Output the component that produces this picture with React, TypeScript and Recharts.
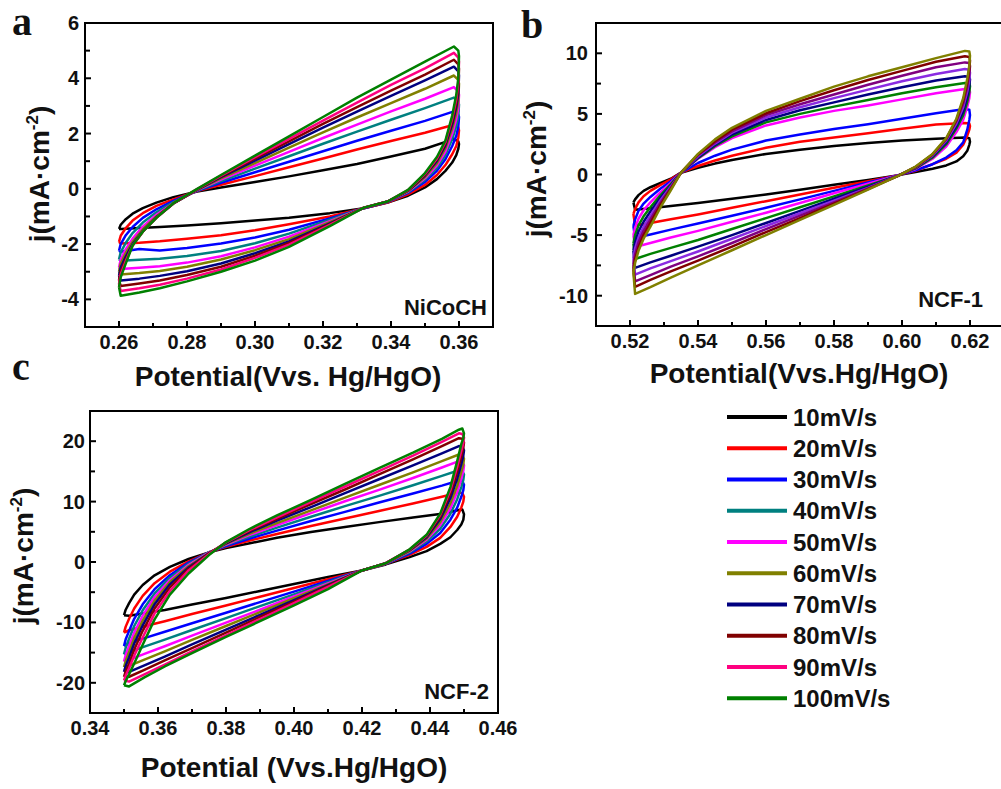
// Cyclic voltammetry panels (a, b, c) drawn with Recharts line loops
import React from "react";
import { LineChart, Line, XAxis, YAxis, ReferenceArea } from "recharts";

const rates = ["10mV/s", "20mV/s", "30mV/s", "40mV/s", "50mV/s", "60mV/s", "70mV/s", "80mV/s", "90mV/s", "100mV/s"];
const colorsAC = ["#000000", "#ff0000", "#0000ff", "#008080", "#ff00ff", "#808000", "#000080", "#800000", "#ff0080", "#008000"];
const colorsB = ["#000000", "#ff0000", "#0000ff", "#ff00ff", "#008000", "#000080", "#8a2be2", "#800080", "#800000", "#808000"];

// ---- panel a : NiCoCH ----
const aUpX = [0.26, 0.2605, 0.262, 0.264, 0.267, 0.271, 0.276, 0.283, 0.29, 0.3, 0.31, 0.32, 0.33, 0.34, 0.35, 0.3585, 0.3598];
const aUpper = [
  [-1.45, -1.3, -1.1, -0.9, -0.7, -0.5, -0.3, -0.1, 0.05, 0.25, 0.45, 0.67, 0.9, 1.17, 1.45, 1.8, 1.72],
  [-1.92, -1.7, -1.42, -1.15, -0.88, -0.62, -0.38, -0.08, 0.15, 0.46, 0.78, 1.1, 1.42, 1.73, 2.03, 2.32, 2.22],
  [-2.24, -2.0, -1.68, -1.38, -1.05, -0.74, -0.44, -0.07, 0.22, 0.6, 0.98, 1.36, 1.74, 2.1, 2.46, 2.8, 2.68],
  [-2.56, -2.3, -1.95, -1.6, -1.22, -0.85, -0.48, -0.06, 0.28, 0.73, 1.18, 1.63, 2.07, 2.5, 2.92, 3.3, 3.16],
  [-2.85, -2.56, -2.18, -1.8, -1.37, -0.94, -0.52, -0.05, 0.33, 0.84, 1.34, 1.84, 2.32, 2.8, 3.26, 3.68, 3.52],
  [-3.0, -2.7, -2.32, -1.92, -1.47, -1.0, -0.53, -0.04, 0.38, 0.93, 1.49, 2.04, 2.58, 3.1, 3.62, 4.1, 3.94],
  [-3.15, -2.85, -2.45, -2.0, -1.53, -1.03, -0.53, -0.03, 0.42, 1.02, 1.62, 2.21, 2.79, 3.36, 3.92, 4.42, 4.25],
  [-3.3, -2.98, -2.55, -2.05, -1.55, -1.04, -0.53, -0.02, 0.45, 1.09, 1.72, 2.35, 2.96, 3.55, 4.13, 4.67, 4.5],
  [-3.45, -3.1, -2.62, -2.05, -1.55, -1.05, -0.52, -0.01, 0.48, 1.15, 1.81, 2.47, 3.12, 3.76, 4.36, 4.92, 4.75],
  [-3.55, -3.2, -2.7, -2.05, -1.55, -1.05, -0.52, 0.0, 0.5, 1.2, 1.9, 2.6, 3.3, 3.95, 4.6, 5.15, 5.0],
];
const aDownX = [0.36, 0.3598, 0.3592, 0.358, 0.356, 0.3535, 0.35, 0.345, 0.339, 0.332, 0.322, 0.31, 0.3, 0.29, 0.28, 0.272, 0.266, 0.2605];
const aLower = [
  [1.62, 1.45, 1.22, 0.95, 0.65, 0.35, 0.05, -0.25, -0.5, -0.7, -0.88, -1.05, -1.15, -1.25, -1.33, -1.38, -1.42, -1.45],
  [2.12, 1.85, 1.55, 1.25, 0.86, 0.5, 0.14, -0.2, -0.5, -0.7, -1.0, -1.28, -1.5, -1.68, -1.81, -1.9, -1.95, -1.98],
  [2.6, 2.25, 1.92, 1.55, 1.07, 0.65, 0.25, -0.15, -0.48, -0.7, -1.07, -1.48, -1.76, -1.98, -2.14, -2.23, -2.18, -2.28],
  [3.05, 2.62, 2.27, 1.8, 1.22, 0.76, 0.33, -0.12, -0.47, -0.69, -1.12, -1.62, -1.97, -2.25, -2.43, -2.53, -2.57, -2.6],
  [3.4, 2.92, 2.52, 2.0, 1.35, 0.85, 0.38, -0.1, -0.46, -0.69, -1.17, -1.73, -2.12, -2.44, -2.67, -2.8, -2.86, -2.9],
  [3.8, 3.2, 2.75, 2.18, 1.47, 0.93, 0.43, -0.08, -0.46, -0.69, -1.21, -1.82, -2.22, -2.56, -2.82, -2.97, -3.05, -3.1],
  [4.1, 3.45, 2.95, 2.33, 1.57, 1.01, 0.48, -0.07, -0.46, -0.69, -1.25, -1.9, -2.33, -2.7, -2.98, -3.15, -3.25, -3.32],
  [4.35, 3.65, 3.1, 2.45, 1.64, 1.06, 0.51, -0.06, -0.46, -0.68, -1.28, -1.96, -2.42, -2.82, -3.12, -3.32, -3.43, -3.52],
  [4.6, 3.85, 3.25, 2.55, 1.7, 1.1, 0.54, -0.05, -0.46, -0.68, -1.3, -2.02, -2.5, -2.92, -3.25, -3.47, -3.6, -3.7],
  [4.8, 4.0, 3.4, 2.65, 1.75, 1.15, 0.57, -0.04, -0.46, -0.68, -1.35, -2.1, -2.6, -3.0, -3.35, -3.6, -3.75, -3.87],
];
const aXLabels = [0.26, 0.28, 0.3, 0.32, 0.34, 0.36];
const aXMinor = [0.27, 0.29, 0.31, 0.33, 0.35];
const aYLabels = [-4, -2, 0, 2, 4, 6];
const aYMinor = [-3, -1, 1, 3, 5];

// ---- panel b : NCF-1 ----
const bUpX = [0.521, 0.5215, 0.5225, 0.524, 0.526, 0.529, 0.532, 0.535, 0.54, 0.545, 0.55, 0.56, 0.57, 0.58, 0.59, 0.6, 0.61, 0.6185, 0.6198];
const bUpper = [
  [-2.3, -2.05, -1.7, -1.35, -1.05, -0.7, -0.35, 0.15, 0.55, 0.9, 1.2, 1.7, 2.05, 2.35, 2.6, 2.8, 2.95, 3.05, 3.0],
  [-3.25, -2.85, -2.3, -1.8, -1.35, -0.85, -0.4, 0.15, 0.7, 1.15, 1.55, 2.2, 2.7, 3.05, 3.4, 3.77, 4.12, 4.25, 4.2],
  [-4.25, -3.7, -3.0, -2.4, -1.85, -1.15, -0.55, 0.15, 0.95, 1.55, 2.05, 2.8, 3.3, 3.75, 4.15, 4.6, 5.05, 5.4, 5.35],
  [-5.0, -4.4, -3.65, -2.95, -2.3, -1.45, -0.7, 0.15, 1.3, 2.25, 3.0, 4.05, 4.7, 5.25, 5.7, 6.2, 6.7, 7.05, 7.0],
  [-5.7, -5.0, -4.2, -3.45, -2.7, -1.7, -0.8, 0.15, 1.35, 2.35, 3.15, 4.3, 5.0, 5.6, 6.15, 6.7, 7.2, 7.55, 7.5],
  [-6.3, -5.6, -4.7, -3.9, -3.05, -1.9, -0.9, 0.15, 1.4, 2.45, 3.3, 4.5, 5.3, 5.95, 6.6, 7.2, 7.75, 8.1, 8.05],
  [-6.9, -6.1, -5.2, -4.3, -3.4, -2.1, -1.0, 0.15, 1.5, 2.55, 3.45, 4.7, 5.55, 6.3, 7.0, 7.7, 8.3, 8.7, 8.65],
  [-7.4, -6.6, -5.6, -4.65, -3.7, -2.3, -1.1, 0.15, 1.6, 2.65, 3.55, 4.9, 5.8, 6.6, 7.4, 8.15, 8.85, 9.25, 9.2],
  [-7.8, -7.0, -6.0, -5.0, -4.0, -2.5, -1.2, 0.15, 1.65, 2.75, 3.7, 5.05, 6.05, 6.95, 7.8, 8.55, 9.3, 9.75, 9.7],
  [-8.1, -7.3, -6.3, -5.3, -4.3, -2.7, -1.3, 0.15, 1.7, 2.9, 3.85, 5.25, 6.25, 7.25, 8.1, 8.85, 9.6, 10.2, 10.15],
];
const bDownX = [0.62, 0.6198, 0.6192, 0.618, 0.616, 0.613, 0.609, 0.604, 0.599, 0.59, 0.58, 0.57, 0.56, 0.55, 0.54, 0.532, 0.526, 0.5215];
const bLower = [
  [2.7, 2.45, 1.95, 1.5, 1.08, 0.75, 0.48, 0.2, -0.05, -0.45, -0.85, -1.25, -1.65, -2.0, -2.35, -2.6, -2.78, -2.9],
  [4.0, 3.7, 3.2, 2.45, 1.8, 1.3, 0.85, 0.3, -0.05, -0.55, -1.1, -1.65, -2.2, -2.75, -3.3, -3.7, -4.0, -4.21],
  [4.9, 4.5, 3.7, 2.65, 2.0, 1.4, 0.85, 0.35, -0.05, -0.65, -1.35, -2.05, -2.75, -3.4, -4.05, -4.55, -4.95, -5.23],
  [6.8, 6.3, 5.6, 4.5, 3.5, 2.3, 1.3, 0.45, -0.05, -0.75, -1.55, -2.35, -3.15, -3.9, -4.65, -5.2, -5.65, -5.98],
  [7.3, 6.8, 6.0, 4.9, 3.8, 2.5, 1.4, 0.5, -0.07, -0.9, -1.8, -2.7, -3.6, -4.5, -5.4, -6.05, -6.55, -6.97],
  [7.85, 7.3, 6.4, 5.2, 4.0, 2.65, 1.5, 0.55, -0.08, -1.0, -2.0, -3.0, -4.0, -5.0, -5.95, -6.7, -7.25, -7.71],
  [8.4, 7.8, 6.85, 5.55, 4.2, 2.8, 1.57, 0.58, -0.08, -1.1, -2.15, -3.2, -4.25, -5.3, -6.35, -7.15, -7.75, -8.26],
  [8.95, 8.3, 7.25, 5.85, 4.4, 2.9, 1.63, 0.6, -0.09, -1.15, -2.3, -3.4, -4.5, -5.65, -6.75, -7.6, -8.3, -8.82],
  [9.4, 8.7, 7.6, 6.1, 4.5, 2.95, 1.67, 0.62, -0.09, -1.2, -2.4, -3.6, -4.75, -5.95, -7.1, -8.0, -8.7, -9.28],
  [9.8, 9.0, 7.9, 6.3, 4.6, 3.0, 1.7, 0.65, -0.1, -1.25, -2.5, -3.75, -5.0, -6.25, -7.5, -8.5, -9.3, -9.85],
];
const bXLabels = [0.52, 0.54, 0.56, 0.58, 0.6, 0.62];
const bXMinor = [0.53, 0.55, 0.57, 0.59, 0.61];
const bYLabels = [-10, -5, 0, 5, 10];
const bYMinor = [-7.5, -2.5, 2.5, 7.5];

// ---- panel c : NCF-2 ----
const cUpX = [0.35, 0.3505, 0.3515, 0.353, 0.3555, 0.359, 0.3635, 0.369, 0.375, 0.38, 0.387, 0.395, 0.405, 0.415, 0.425, 0.435, 0.4435, 0.4485, 0.4495];
const cUpper = [
  [-8.8, -7.9, -6.8, -5.4, -3.8, -2.2, -0.8, 0.5, 1.6, 2.3, 3.1, 4.0, 4.95, 5.8, 6.6, 7.35, 8.0, 8.6, 8.7],
  [-11.7, -10.7, -9.4, -7.7, -5.6, -3.5, -1.6, 0.1, 1.6, 2.5, 3.55, 4.65, 5.95, 7.2, 8.45, 9.7, 10.8, 11.5, 11.4],
  [-13.9, -12.8, -11.4, -9.4, -7.0, -4.5, -2.2, -0.1, 1.6, 2.65, 3.9, 5.2, 6.8, 8.3, 9.85, 11.35, 12.65, 13.5, 13.4],
  [-15.3, -14.2, -12.7, -10.6, -8.0, -5.2, -2.6, -0.3, 1.6, 2.8, 4.2, 5.7, 7.5, 9.25, 10.95, 12.7, 14.25, 15.2, 15.1],
  [-16.5, -15.4, -13.9, -11.7, -8.9, -5.8, -3.0, -0.5, 1.55, 2.9, 4.5, 6.1, 8.1, 10.05, 11.95, 13.9, 15.65, 16.7, 16.6],
  [-17.4, -16.4, -14.9, -12.6, -9.7, -6.4, -3.3, -0.7, 1.5, 3.0, 4.7, 6.45, 8.55, 10.65, 12.75, 14.85, 16.7, 17.8, 17.7],
  [-18.2, -17.2, -15.8, -13.5, -10.5, -7.0, -3.7, -0.9, 1.45, 3.1, 4.95, 6.85, 9.1, 11.4, 13.7, 16.0, 18.0, 19.2, 19.1],
  [-19.0, -18.1, -16.8, -14.5, -11.4, -7.7, -4.2, -1.1, 1.4, 3.2, 5.15, 7.15, 9.6, 12.0, 14.5, 17.0, 19.2, 20.5, 20.4],
  [-19.6, -18.8, -17.6, -15.5, -12.5, -8.5, -4.8, -1.4, 1.3, 3.25, 5.3, 7.4, 9.95, 12.5, 15.05, 17.6, 19.9, 21.3, 21.2],
  [-20.4, -19.7, -18.6, -16.8, -13.7, -9.5, -5.4, -1.9, 1.15, 3.3, 5.5, 7.7, 10.3, 12.95, 15.55, 18.1, 20.4, 21.9, 22.1],
];
const cDownX = [0.45, 0.4498, 0.4492, 0.448, 0.446, 0.443, 0.439, 0.434, 0.427, 0.42, 0.41, 0.4, 0.39, 0.38, 0.37, 0.362, 0.356, 0.3515];
const cLower = [
  [7.9, 7.0, 6.2, 5.3, 4.1, 3.0, 1.8, 0.8, -0.4, -1.4, -2.5, -3.65, -4.8, -5.95, -7.05, -7.95, -8.5, -8.9],
  [10.8, 10.0, 9.0, 7.5, 5.8, 4.0, 2.5, 1.2, -0.3, -1.4, -2.85, -4.3, -5.75, -7.2, -8.6, -9.8, -10.65, -11.3],
  [12.8, 11.9, 10.8, 9.0, 7.0, 4.8, 3.0, 1.4, -0.3, -1.4, -3.15, -4.9, -6.65, -8.4, -10.15, -11.55, -12.6, -13.4],
  [14.5, 13.6, 12.4, 10.4, 8.0, 5.5, 3.4, 1.6, -0.25, -1.4, -3.35, -5.35, -7.3, -9.3, -11.25, -12.85, -14.0, -14.9],
  [16.0, 15.1, 13.8, 11.6, 8.9, 6.1, 3.7, 1.75, -0.25, -1.4, -3.55, -5.7, -7.9, -10.05, -12.2, -13.95, -15.2, -16.2],
  [17.1, 16.2, 14.9, 12.6, 9.7, 6.6, 3.9, 1.85, -0.25, -1.4, -3.7, -6.0, -8.3, -10.6, -12.9, -14.8, -16.15, -17.2],
  [18.5, 17.6, 16.2, 13.8, 10.6, 7.1, 4.1, 1.95, -0.2, -1.4, -3.85, -6.3, -8.75, -11.2, -13.65, -15.65, -17.1, -18.2],
  [19.8, 18.9, 17.4, 14.9, 11.3, 7.5, 4.3, 2.0, -0.2, -1.4, -3.95, -6.55, -9.1, -11.7, -14.25, -16.3, -17.85, -19.0],
  [20.6, 19.7, 18.4, 15.8, 11.9, 7.8, 4.4, 2.05, -0.2, -1.4, -4.1, -6.8, -9.45, -12.15, -14.8, -17.0, -18.6, -19.8],
  [21.3, 20.5, 19.5, 16.7, 12.4, 8.0, 4.5, 2.1, -0.2, -1.4, -4.5, -7.2, -9.8, -12.4, -15.1, -17.3, -19.1, -20.6],
];
const cXLabels = [0.34, 0.36, 0.38, 0.4, 0.42, 0.44, 0.46];
const cXMinor = [0.35, 0.37, 0.39, 0.41, 0.43, 0.45];
const cYLabels = [-20, -10, 0, 10, 20];
const cYMinor = [-15, -5, 5, 15];

const FONT = "Arial, 'Liberation Sans', sans-serif";

function makeLoop(upX: number[], up: number[], downX: number[], down: number[]) {
  const pts = upX.map((x, i) => ({ x, y: up[i] }));
  downX.forEach((x, i) => pts.push({ x, y: down[i] }));
  pts.push(pts[0]);
  return pts;
}

function Panel(props: any) {
  const { left, top, width, height, margin, yWidth, xDomain, yDomain, xLabels, xMinor, yLabels, yMinor, loops, yGap } = props;
  const xTicks = [...xLabels, ...xMinor].sort((p, q) => p - q);
  const yTicks = [...yLabels, ...yMinor].sort((p, q) => p - q);

  const renderXTick = (p: any) => {
    const v = p.payload.value;
    const major = xLabels.includes(v);
    return (
      <g>
        <line x1={p.x} x2={p.x} y1={p.y} y2={p.y - (major ? 6 : 4)} stroke="#000" strokeWidth={2} />
        {major && (
          <text x={p.x} y={p.y + 22} textAnchor="middle" fontFamily={FONT} fontWeight={700} fontSize={20} fill="#111">
            {v.toFixed(2)}
          </text>
        )}
      </g>
    );
  };

  const renderYTick = (p: any) => {
    const v = p.payload.value;
    const major = yLabels.includes(v);
    return (
      <g>
        <line x1={p.x} x2={p.x + (major ? 6 : 5)} y1={p.y} y2={p.y} stroke="#000" strokeWidth={2} />
        {major && (
          <text x={p.x - yGap} y={p.y + 7} textAnchor="end" fontFamily={FONT} fontWeight={700} fontSize={20} fill="#111">
            {String(v)}
          </text>
        )}
      </g>
    );
  };

  return (
    <div style={{ position: "absolute", left, top }}>
      <LineChart width={width} height={height} margin={margin}>
        <XAxis
          type="number"
          dataKey="x"
          domain={xDomain}
          ticks={xTicks}
          interval={0}
          allowDataOverflow
          axisLine={false}
          tickLine={false}
          tickSize={0}
          tickMargin={0}
          height={30}
          tick={renderXTick}
        />
        <YAxis
          type="number"
          domain={yDomain}
          ticks={yTicks}
          interval={0}
          allowDataOverflow
          axisLine={false}
          tickLine={false}
          tickSize={0}
          tickMargin={0}
          width={yWidth}
          tick={renderYTick}
        />
        {loops.map((l: any, i: number) => (
          <Line
            key={i}
            data={l.data}
            dataKey="y"
            type="linear"
            stroke={l.color}
            strokeWidth={2.5}
            strokeLinejoin="round"
            dot={false}
            activeDot={false}
            isAnimationActive={false}
          />
        ))}
        <ReferenceArea
          x1={xDomain[0]}
          x2={xDomain[1]}
          y1={yDomain[0]}
          y2={yDomain[1]}
          fill="none"
          stroke="#000"
          strokeWidth={2}
          ifOverflow="visible"
        />
      </LineChart>
    </div>
  );
}

function YTitle({ x, y }: { x: number; y: number }) {
  return (
    <text transform={`translate(${x},${y}) rotate(-90)`} textAnchor="middle" fontFamily={FONT} fontWeight={700} fontSize={28} fill="#111">
      j(mA·cm
      <tspan dy={-11} fontSize={17}>-2</tspan>
      <tspan dy={11}>)</tspan>
    </text>
  );
}

export default function App() {
  const loopsA = aUpper.map((u, i) => ({ color: colorsAC[i], data: makeLoop(aUpX, u, aDownX, aLower[i]) }));
  const loopsB = bUpper.map((u, i) => ({ color: colorsB[i], data: makeLoop(bUpX, u, bDownX, bLower[i]) }));
  const loopsC = cUpper.map((u, i) => ({ color: colorsAC[i], data: makeLoop(cUpX, u, cDownX, cLower[i]) }));

  const title = { fontFamily: FONT, fontWeight: 700, fontSize: 28, fill: "#111" } as const;
  const letter = { fontFamily: "'Times New Roman', 'Liberation Serif', serif", fontWeight: 700, fontSize: 40, fill: "#111" } as const;
  const note = { fontFamily: FONT, fontWeight: 700, fontSize: 22, fill: "#111" } as const;

  return (
    <div style={{ position: "absolute", left: 0, top: 0, width: 1001, height: 789, overflow: "hidden", background: "#fff" }}>
      <Panel
        left={0} top={0} width={500} height={390}
        margin={{ top: 23, right: 7, bottom: 33, left: 0 }}
        yWidth={85} yGap={6}
        xDomain={[0.25, 0.37]} yDomain={[-5, 6]}
        xLabels={aXLabels} xMinor={aXMinor} yLabels={aYLabels} yMinor={aYMinor}
        loops={loopsA}
      />
      <Panel
        left={500} top={0} width={504} height={390}
        margin={{ top: 23, right: 0, bottom: 34, left: 0 }}
        yWidth={96} yGap={8}
        xDomain={[0.51, 0.63]} yDomain={[-12.5, 12.5]}
        xLabels={bXLabels} xMinor={bXMinor} yLabels={bYLabels} yMinor={bYMinor}
        loops={loopsB}
      />
      <Panel
        left={0} top={390} width={520} height={399}
        margin={{ top: 21, right: 22, bottom: 46, left: 0 }}
        yWidth={90} yGap={5}
        xDomain={[0.34, 0.46]} yDomain={[-25, 25]}
        xLabels={cXLabels} xMinor={cXMinor} yLabels={cYLabels} yMinor={cYMinor}
        loops={loopsC}
      />
      <svg width={1001} height={789} style={{ position: "absolute", left: 0, top: 0, pointerEvents: "none" }}>
        <text x={12} y={35} style={letter}>a</text>
        <text x={521} y={38} style={letter}>b</text>
        <text x={12} y={380} style={letter}>c</text>

        <text x={288} y={386} textAnchor="middle" style={title}>Potential(Vvs. Hg/HgO)</text>
        <text x={799} y={383} textAnchor="middle" style={title}>Potential(Vvs.Hg/HgO)</text>
        <text x={294} y={777} textAnchor="middle" style={title}>Potential (Vvs.Hg/HgO)</text>

        <YTitle x={49} y={174} />
        <YTitle x={546} y={169} />
        <YTitle x={33} y={556} />

        <text x={487} y={315} textAnchor="end" style={note}>NiCoCH</text>
        <text x={983} y={307} textAnchor="end" style={note}>NCF-1</text>
        <text x={489} y={699} textAnchor="end" style={note}>NCF-2</text>

        {rates.map((r, i) => {
          const y = 417 + i * 31.25;
          return (
            <g key={r}>
              <line x1={727} x2={787} y1={y} y2={y} stroke={colorsAC[i]} strokeWidth={4} />
              <text x={793} y={y + 8.5} fontFamily={FONT} fontWeight={700} fontSize={24} fill="#111">{r}</text>
            </g>
          );
        })}
      </svg>
    </div>
  );
}
